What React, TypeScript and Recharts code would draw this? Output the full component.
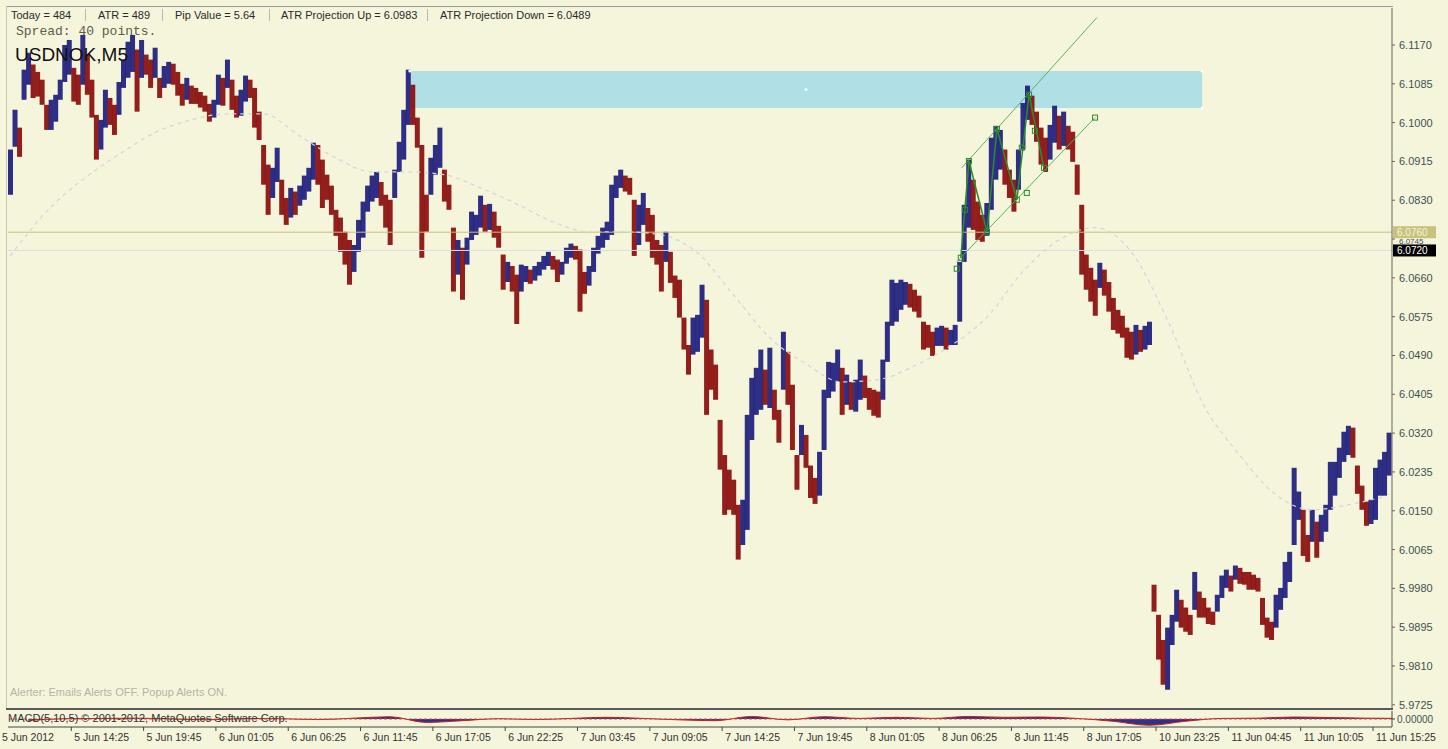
import {
  ComposedChart,
  Bar,
  Cell,
  Line,
  Area,
  XAxis,
  YAxis,
  ReferenceLine,
  ReferenceArea,
  ReferenceDot,
} from "recharts";

// one column = 4 M5 bars (20 min); high / low of each column
const highs = [
  6.0941, 6.1028, 6.0989, 6.1116, 6.1153, 6.1127, 6.1111, 6.1094, 6.1039, 6.1050,
  6.1061, 6.1094, 6.1170, 6.1181, 6.1120, 6.1105, 6.1192, 6.1149, 6.1094, 6.1017,
  6.1006, 6.1072, 6.1054, 6.1039, 6.1089, 6.1138, 6.1177, 6.1192, 6.1160, 6.1181,
  6.1149, 6.1138, 6.1164, 6.1098, 6.1124, 6.1133, 6.1129, 6.1111, 6.1085, 6.1098,
  6.1081, 6.1076, 6.1067, 6.1059, 6.1041, 6.1050, 6.1105, 6.1098, 6.1138, 6.1094,
  6.1059, 6.1072, 6.1103, 6.1094, 6.1076, 6.1024, 6.0951, 6.0908, 6.0901, 6.0945,
  6.0875, 6.0835, 6.0857, 6.0849, 6.0862, 6.0884, 6.0901, 6.0956, 6.0951, 6.0919,
  6.0886, 6.0862, 6.0809, 6.0792, 6.0761, 6.0743, 6.0732, 6.0787, 6.0827, 6.0862,
  6.0884, 6.0892, 6.0870, 6.0842, 6.0831, 6.0897, 6.0958, 6.1028, 6.1116, 6.1083,
  6.1011, 6.0951, 6.0842, 6.0923, 6.0951, 6.0989, 6.0897, 6.0864, 6.0770, 6.0743,
  6.0726, 6.0748, 6.0805, 6.0798, 6.0840, 6.0820, 6.0822, 6.0805, 6.0774, 6.0711,
  6.0695, 6.0686, 6.0667, 6.0689, 6.0686, 6.0678, 6.0686, 6.0695, 6.0708, 6.0717,
  6.0708, 6.0700, 6.0695, 6.0726, 6.0735, 6.0730, 6.0722, 6.0673, 6.0686, 6.0726,
  6.0752, 6.0770, 6.0783, 6.0864, 6.0884, 6.0897, 6.0884, 6.0879, 6.0831, 6.0820,
  6.0846, 6.0813, 6.0798, 6.0743, 6.0732, 6.0761, 6.0717, 6.0665, 6.0656, 6.0573,
  6.0513, 6.0573, 6.0579, 6.0645, 6.0612, 6.0503, 6.0470, 6.0349, 6.0272, 6.0240,
  6.0218, 6.0163, 6.0174, 6.0360, 6.0441, 6.0463, 6.0503, 6.0459, 6.0507, 6.0415,
  6.0371, 6.0542, 6.0498, 6.0426, 6.0272, 6.0338, 6.0316, 6.0249, 6.0222, 6.0279,
  6.0415, 6.0476, 6.0474, 6.0503, 6.0463, 6.0448, 6.0432, 6.0437, 6.0481, 6.0446,
  6.0419, 6.0415, 6.0411, 6.0481, 6.0564, 6.0656, 6.0649, 6.0656, 6.0651, 6.0647,
  6.0634, 6.0621, 6.0564, 6.0557, 6.0542, 6.0551, 6.0555, 6.0551, 6.0546, 6.0557,
  6.0695, 6.0820, 6.0919, 6.0875, 6.0827, 6.0798, 6.0824, 6.0967, 6.0993, 6.0984,
  6.0941, 6.0897, 6.0875, 6.0941, 6.1043, 6.1081, 6.1059, 6.1024, 6.0989, 6.0967,
  6.0995, 6.1037, 6.1015, 6.1024, 6.0993, 6.0980, 6.0908, 6.0820, 6.0711, 6.0682,
  6.0656, 6.0693, 6.0678, 6.0651, 6.0616, 6.0590, 6.0577, 6.0551, 6.0542, 6.0557,
  6.0546, 6.0555, 6.0564, 5.9988, 5.9922, 5.9867, 5.9894, 5.9922, 5.9977, 5.9955,
  5.9938, 5.9922, 6.0016, 5.9973, 5.9959, 5.9938, 5.9929, 5.9966, 6.0008, 6.0021,
  6.0008, 6.0030, 6.0025, 6.0016, 6.0016, 6.0010, 6.0003, 5.9959, 5.9916, 5.9907,
  5.9966, 5.9981, 6.0038, 6.0060, 6.0244, 6.0192, 6.0152, 6.0097, 6.0152, 6.0126,
  6.0141, 6.0163, 6.0257, 6.0257, 6.0288, 6.0323, 6.0336, 6.0332, 6.0249, 6.0205,
  6.0170, 6.0174, 6.0244, 6.0262, 6.0279, 6.0321,
];

const lows = [
  6.0842, 6.0947, 6.0925, 6.1050, 6.1083, 6.1054, 6.1057, 6.1039, 6.0984, 6.0984,
  6.1002, 6.1050, 6.1089, 6.1105, 6.1046, 6.1039, 6.1083, 6.1061, 6.1011, 6.0919,
  6.0941, 6.0989, 6.0995, 6.0973, 6.1017, 6.1076, 6.1098, 6.1111, 6.1024, 6.1098,
  6.1105, 6.1076, 6.1098, 6.1054, 6.1076, 6.1085, 6.1083, 6.1059, 6.1037, 6.1050,
  6.1041, 6.1041, 6.1033, 6.1024, 6.1002, 6.1011, 6.1039, 6.1037, 6.1076, 6.1028,
  6.1011, 6.1015, 6.1046, 6.1054, 6.0989, 6.0962, 6.0864, 6.0798, 6.0835, 6.0870,
  6.0798, 6.0776, 6.0792, 6.0798, 6.0818, 6.0831, 6.0849, 6.0875, 6.0864, 6.0813,
  6.0831, 6.0798, 6.0752, 6.0717, 6.0689, 6.0645, 6.0673, 6.0717, 6.0748, 6.0805,
  6.0827, 6.0835, 6.0818, 6.0770, 6.0732, 6.0835, 6.0892, 6.0919, 6.0995, 6.0995,
  6.0945, 6.0704, 6.0761, 6.0842, 6.0886, 6.0901, 6.0827, 6.0809, 6.0630, 6.0667,
  6.0612, 6.0689, 6.0743, 6.0754, 6.0770, 6.0761, 6.0765, 6.0748, 6.0726, 6.0634,
  6.0651, 6.0630, 6.0559, 6.0630, 6.0651, 6.0647, 6.0654, 6.0665, 6.0678, 6.0686,
  6.0678, 6.0651, 6.0667, 6.0691, 6.0704, 6.0700, 6.0586, 6.0625, 6.0643, 6.0673,
  6.0713, 6.0726, 6.0743, 6.0754, 6.0835, 6.0857, 6.0849, 6.0842, 6.0708, 6.0732,
  6.0776, 6.0739, 6.0704, 6.0689, 6.0630, 6.0695, 6.0649, 6.0616, 6.0573, 6.0503,
  6.0448, 6.0492, 6.0498, 6.0529, 6.0360, 6.0415, 6.0393, 6.0240, 6.0141, 6.0152,
  6.0141, 6.0043, 6.0075, 6.0108, 6.0305, 6.0360, 6.0371, 6.0382, 6.0375, 6.0349,
  6.0299, 6.0415, 6.0382, 6.0283, 6.0196, 6.0272, 6.0244, 6.0178, 6.0165, 6.0183,
  6.0283, 6.0397, 6.0411, 6.0432, 6.0360, 6.0382, 6.0371, 6.0367, 6.0393, 6.0397,
  6.0371, 6.0358, 6.0354, 6.0393, 6.0476, 6.0555, 6.0564, 6.0590, 6.0601, 6.0595,
  6.0586, 6.0573, 6.0503, 6.0507, 6.0489, 6.0511, 6.0511, 6.0503, 6.0513, 6.0513,
  6.0564, 6.0695, 6.0770, 6.0765, 6.0743, 6.0739, 6.0752, 6.0809, 6.0875, 6.0897,
  6.0864, 6.0835, 6.0805, 6.0853, 6.0941, 6.1006, 6.0995, 6.0958, 6.0908, 6.0892,
  6.0919, 6.0956, 6.0941, 6.0949, 6.0941, 6.0914, 6.0842, 6.0667, 6.0634, 6.0608,
  6.0577, 6.0638, 6.0621, 6.0586, 6.0546, 6.0538, 6.0529, 6.0485, 6.0481, 6.0492,
  6.0498, 6.0503, 6.0513, 5.9929, 5.9824, 5.9769, 5.9758, 5.9856, 5.9907, 5.9894,
  5.9885, 5.9878, 5.9933, 5.9916, 5.9916, 5.9902, 5.9900, 5.9929, 5.9959, 5.9981,
  5.9973, 5.9999, 5.9990, 5.9988, 5.9977, 5.9977, 5.9973, 5.9900, 5.9872, 5.9867,
  5.9894, 5.9933, 5.9959, 5.9994, 6.0075, 6.0130, 6.0051, 6.0038, 6.0082, 6.0047,
  6.0082, 6.0104, 6.0152, 6.0183, 6.0222, 6.0257, 6.0272, 6.0266, 6.0187, 6.0152,
  6.0117, 6.0121, 6.0130, 6.0183, 6.0183, 6.0227,
];

// moving average, one value every 8 columns
const maPrices = [
  6.0708, 6.0805, 6.0875, 6.0930, 6.0978, 6.1006, 6.1019, 6.1019, 6.0971, 6.0923,
  6.0892, 6.0892, 6.0886, 6.0857, 6.0822, 6.0783, 6.0761, 6.0761, 6.0754, 6.0715,
  6.0623, 6.0529, 6.0472, 6.0432, 6.0437, 6.0467, 6.0511, 6.0573, 6.0673, 6.0743,
  6.0770, 6.0717, 6.0568, 6.0382, 6.0272, 6.0185, 6.0152, 6.0163, 6.0181,
];

// lower window oscillator, one value every 8 columns
const oscValues = [
  -0.00005, 0.00001, 0.00002, 0.00003, 0, -0.00003, 0.00002, 0.00001, -0.00002, 0.00003,
  0.00008, -0.00012, -0.00006, 0.00001, -0.00002, 0.00002, 0.00006, 0.00002, -0.00003, -0.00006,
  0.00009, -0.00003, 0.00008, 0.00002, 0.00006, 0.00002, 0.00009, 0.00006, 0.00007, 0.00002,
  -0.00008, -0.00022, -0.00008, 0.00002, 0.00003, 0.00007, 0.00005, 0.00003, 0.00002,
];

const priceTicks = [
  6.117, 6.1085, 6.1, 6.0915, 6.083, 6.0745, 6.066, 6.0575, 6.049,
  6.0405, 6.032, 6.0235, 6.015, 6.0065, 5.998, 5.9895, 5.981, 5.9725,
];

const xLabels = [
  "5 Jun 2012", "5 Jun 14:25", "5 Jun 19:45", "6 Jun 01:05", "6 Jun 06:25",
  "6 Jun 11:45", "6 Jun 17:05", "6 Jun 22:25", "7 Jun 03:45", "7 Jun 09:05",
  "7 Jun 14:25", "7 Jun 19:45", "8 Jun 01:05", "8 Jun 06:25", "8 Jun 11:45",
  "8 Jun 17:05", "10 Jun 23:25", "11 Jun 04:45", "11 Jun 10:05", "11 Jun 15:25",
];

// drawn objects: [column, price]
const zoneX = [88.4, 263.7];
const zoneY = [6.1032, 6.1113];
const upperChannel = [[210.5, 6.0901], [240.4, 6.123]];
const lowerChannel = [[209.4, 6.0695], [240.0, 6.1011]];
const zigzag = [
  [210.3, 6.0704], [212.1, 6.0916], [216.1, 6.0761], [218.3, 6.0986],
  [222.7, 6.0831], [225.4, 6.1061], [228.7, 6.0901],
];
const extraMarkers = [
  [209.4, 6.068], [211.2, 6.0809], [223.8, 6.0945], [226.7, 6.0982],
  [224.9, 6.0846], [240.0, 6.1011],
];

const bidLine = 6.076;
const askLine = 6.072;

const NAVY = "#1c1c7c";
const MAROON = "#8a0c0c";
const BG = "#f5f5dc";
const X_DOMAIN: [number, number] = [-0.5, 305.7];

const rows = highs.map((h, i) => {
  const mid = (h + lows[i]) / 2;
  const prev = i > 0 ? (highs[i - 1] + lows[i - 1]) / 2 : mid;
  return {
    i,
    range: [lows[i], h],
    up: mid >= prev,
    ma: i % 8 === 0 ? maPrices[i / 8] : null,
  };
});

const xTicks = xLabels.map((_, k) => 16 * k - 2.5);
const oscRows = oscValues.map((v, g) => ({ i: g * 8 + 4, v }));

const XTick = (props: any) => {
  const { x, y, payload } = props;
  const k = xTicks.indexOf(payload.value);
  return (
    <text x={x + 3} y={y + 8} fontSize={10.5} fill="#333" fontFamily="Liberation Sans">
      {xLabels[k]}
    </text>
  );
};

// the 6.0745 label sits behind the two price tags, drawn smaller
const YTick = (props: any) => {
  const { x, y, payload } = props;
  const hidden = Math.abs(payload.value - 6.0745) < 1e-6;
  return (
    <text
      x={x}
      y={hidden ? y + 5 : y + 4}
      fontSize={hidden ? 8 : 11}
      fill="#3e5252"
      fontFamily="Liberation Sans"
    >
      {payload.value.toFixed(4)}
    </text>
  );
};

const priceTag = (bg: string, fg: string, value: number) => (props: any) => {
  const vb = props.viewBox;
  const x = vb.x + vb.width + 1;
  return (
    <g>
      <rect x={x} y={vb.y - 6} width={43} height={12} fill={bg} />
      <text x={x + 4} y={vb.y + 4} fontSize={10} fill={fg} fontFamily="Liberation Sans">
        {value.toFixed(4)}
      </text>
    </g>
  );
};

const square = (props: any) => (
  <rect x={props.cx - 2.5} y={props.cy - 2.5} width={5} height={5} fill="none" stroke="#2c8c2c" strokeWidth={1} />
);

const abs = (left: number, top: number, style: any = {}) => ({
  position: "absolute" as const,
  left,
  top,
  whiteSpace: "nowrap" as const,
  ...style,
});

export default function App() {
  const header = [
    ["Today = 484", 11],
    ["ATR = 489", 98],
    ["Pip Value = 5.64", 175],
    ["ATR Projection Up = 6.0983", 281],
    ["ATR Projection Down = 6.0489", 440],
  ] as const;
  const seps = [85, 162, 269, 427];

  return (
    <div
      style={{
        position: "absolute",
        left: 0,
        top: 0,
        width: 1448,
        height: 749,
        background: BG,
        overflow: "hidden",
        fontFamily: "Liberation Sans, sans-serif",
      }}
    >
      {/* panel frame */}
      <div style={abs(6, 6, { width: 1387, height: 0, borderTop: "1px solid #9a9a9a" })} />
      <div style={abs(6, 6, { width: 0, height: 703, borderLeft: "1px solid #c8c8b8" })} />
      <div style={abs(6, 708, { width: 1387, height: 2, background: "#5a5a5a" })} />

      <div style={abs(0, 0)}>
        <ComposedChart
          width={1448}
          height={749}
          data={rows}
          barCategoryGap={0}
          margin={{ top: 8, right: 0, bottom: 41, left: 8 }}
        >
          <XAxis type="number" dataKey="i" domain={X_DOMAIN} allowDataOverflow hide />
          <YAxis
            orientation="right"
            width={56}
            domain={[5.9718, 6.1251]}
            allowDataOverflow
            ticks={priceTicks}
            interval={0}
            tick={<YTick />}
            tickSize={3}
            tickMargin={4}
            stroke="#666"
          />
          <ReferenceArea
            x1={zoneX[0]}
            x2={zoneX[1]}
            y1={zoneY[0]}
            y2={zoneY[1]}
            fill="#b0e0e6"
            fillOpacity={1}
            stroke="none"
          />
          <ReferenceLine y={bidLine} stroke="#c8c07a" label={priceTag("#c9c27e", "#f6f2d2", bidLine)} />
          <ReferenceLine y={askLine} stroke="#dcdce2" label={priceTag("#000", "#fff", askLine)} />
          <Line
            dataKey="ma"
            type="monotone"
            connectNulls
            dot={false}
            stroke="#d4d4dc"
            strokeWidth={1.2}
            strokeDasharray="4 4"
            isAnimationActive={false}
          />
          <Bar dataKey="range" fillOpacity={0.92} isAnimationActive={false}>
            {rows.map((r) => (
              <Cell key={r.i} fill={r.up ? NAVY : MAROON} />
            ))}
          </Bar>
          <ReferenceLine
            segment={upperChannel.map(([x, y]) => ({ x, y }))}
            stroke="#58b458"
          />
          <ReferenceLine
            segment={lowerChannel.map(([x, y]) => ({ x, y }))}
            stroke="#58b458"
          />
          {zigzag.slice(1).map(([x, y], k) => (
            <ReferenceLine
              key={"z" + k}
              segment={[
                { x: zigzag[k][0], y: zigzag[k][1] },
                { x, y },
              ]}
              stroke="#2c8c2c"
              strokeWidth={1.5}
            />
          ))}
          {[...zigzag, ...extraMarkers].map(([x, y], k) => (
            <ReferenceDot key={"m" + k} x={x} y={y} r={3} shape={square} />
          ))}
          {[
            [zoneX[0], zoneY[1]],
            [zoneX[1], zoneY[1]],
            [zoneX[1], zoneY[0]],
            [(zoneX[0] + zoneX[1]) / 2, (zoneY[0] + zoneY[1]) / 2],
          ].map(([x, y], k) => (
            <ReferenceDot key={"a" + k} x={x} y={y} r={1.5} fill="#fff" stroke="none" />
          ))}
        </ComposedChart>
      </div>

      <div style={abs(0, 709)}>
        <ComposedChart width={1448} height={40} data={oscRows} margin={{ top: 2, right: 0, bottom: 0, left: 8 }}>
          <XAxis
            type="number"
            dataKey="i"
            domain={X_DOMAIN}
            allowDataOverflow
            ticks={xTicks}
            interval={0}
            tick={<XTick />}
            tickSize={4}
            height={22}
            stroke="#444"
          />
          <YAxis
            orientation="right"
            width={56}
            domain={[-0.00028, 0.00028]}
            allowDataOverflow
            ticks={[0]}
            interval={0}
            tickFormatter={(v: number) => v.toFixed(5)}
            tick={{ fill: "#3e5252", fontSize: 10, fontFamily: "Liberation Sans" }}
            tickSize={3}
            tickMargin={2}
            stroke="#444"
          />
          <ReferenceLine y={0} stroke="#e04848" strokeDasharray="3 2" />
          <Area
            dataKey="v"
            type="monotone"
            baseValue={0}
            fill={NAVY}
            fillOpacity={0.9}
            stroke="#c81e1e"
            strokeWidth={1}
            isAnimationActive={false}
          />
        </ComposedChart>
      </div>

      {/* texts */}
      {header.map(([t, x]) => (
        <div key={t} style={abs(x, 9, { fontSize: 11, color: "#2a2a2a", lineHeight: "12px" })}>
          {t}
        </div>
      ))}
      {seps.map((x) => (
        <div key={x} style={abs(x, 9, { width: 0, height: 12, borderLeft: "1px solid #b8b8b0" })} />
      ))}
      <div style={abs(16, 24, { fontSize: 13, fontFamily: "Liberation Mono, monospace", color: "#5c5c48", lineHeight: "15px" })}>
        Spread: 40 points.
      </div>
      <div style={abs(15, 44, { fontSize: 19, color: "#111", lineHeight: "22px" })}>USDNOK,M5</div>
      <div style={abs(10, 686, { fontSize: 11, color: "#b4b4a4", lineHeight: "13px" })}>
        Alerter: Emails Alerts OFF. Popup Alerts ON.
      </div>
      <div style={abs(8, 712, { fontSize: 11, color: "#333", lineHeight: "12px" })}>
        MACD(5,10,5) © 2001-2012, MetaQuotes Software Corp.
      </div>
    </div>
  );
}
